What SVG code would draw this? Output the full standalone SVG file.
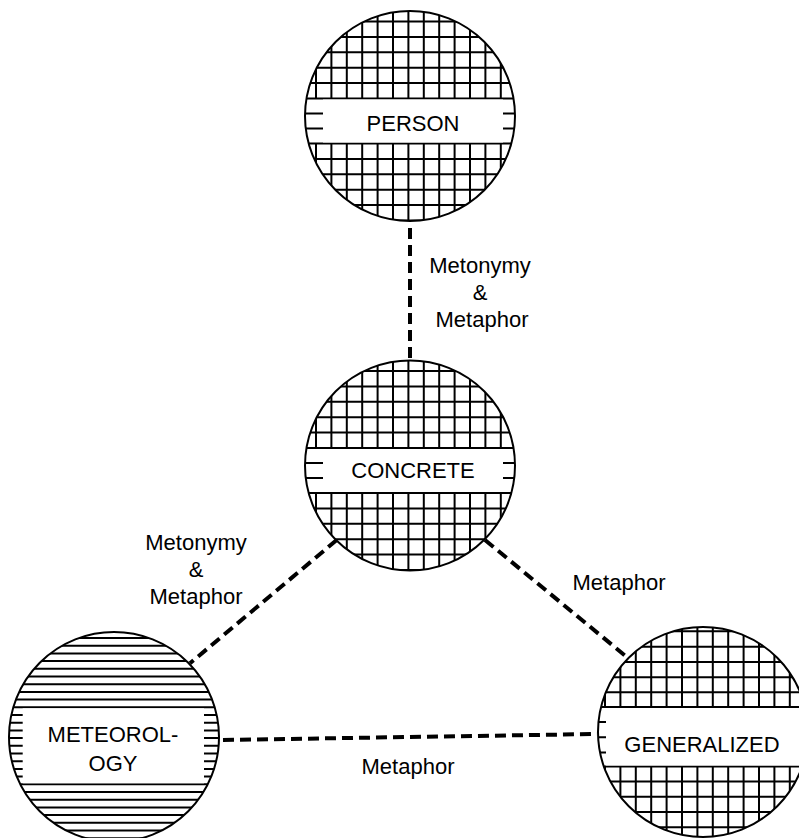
<svg xmlns="http://www.w3.org/2000/svg" xmlns:xlink="http://www.w3.org/1999/xlink" width="799" height="838" viewBox="0 0 799 838">
<style>
.bg{fill:#fff;stroke:none}
.ring{fill:none;stroke:#000;stroke-width:2}
.g{fill:none;stroke:#000;stroke-width:2}
.band{fill:#fff;stroke:none}
.t{font-family:"Liberation Sans",Arial,Helvetica,sans-serif;font-size:22px;fill:#000;text-anchor:middle}
.edge{fill:none;stroke:#000;stroke-width:4;stroke-dasharray:11 6}
</style>
<defs>
<clipPath id="cp-top" clipPathUnits="userSpaceOnUse"><circle cx="410" cy="116" r="105"/></clipPath>
<clipPath id="cp-met" clipPathUnits="userSpaceOnUse"><circle cx="114" cy="737" r="105"/></clipPath>
<clipPath id="cp-gen" clipPathUnits="userSpaceOnUse"><circle cx="703" cy="732" r="105"/></clipPath>
<g id="gridbody">
<circle class="bg" cx="410" cy="116" r="105"/>
<g clip-path="url(#cp-top)">
<path class="g" d="M316 0V98.5M331.4 0V98.5M346.8 0V98.5M362.2 0V98.5M377.6 0V98.5M393 0V98.5M408.4 0V98.5M423.8 0V98.5M439.2 0V98.5M454.6 0V98.5M470 0V98.5M485.4 0V98.5M500.8 0V98.5M316 143.5V230M331.4 143.5V230M346.8 143.5V230M362.2 143.5V230M377.6 143.5V230M393 143.5V230M408.4 143.5V230M423.8 143.5V230M439.2 143.5V230M454.6 143.5V230M470 143.5V230M485.4 143.5V230M500.8 143.5V230"/>
<path class="g" d="M300 21.5H520M300 36.9H520M300 52.3H520M300 67.7H520M300 83.1H520M300 98.5H520M300 113.5H520M300 128.5H520M300 143.5H520M300 158.9H520M300 174.3H520M300 189.7H520M300 205.1H520M300 220.5H520"/>
<rect class="band" x="323" y="99.5" width="180" height="43"/>
</g>
<circle class="ring" cx="410" cy="116" r="105"/>
</g>
</defs>

<g id="connectors">
<path class="edge" d="M410 228V359"/>
<path class="edge" d="M336.7 540L190 663.3"/>
<path class="edge" d="M485 540L628.3 658.3"/>
<path class="edge" d="M223 740L597 734"/>
</g>

<g id="edge-labels">
<text class="t"><tspan x="480" y="273">Metonymy</tspan><tspan x="480" y="300">&amp;</tspan><tspan x="482" y="327">Metaphor</tspan></text>
<text class="t"><tspan x="196" y="550">Metonymy</tspan><tspan x="196" y="577">&amp;</tspan><tspan x="196" y="604">Metaphor</tspan></text>
<text class="t" x="619" y="590">Metaphor</text>
<text class="t" x="408" y="774">Metaphor</text>
</g>

<g id="person">
<use xlink:href="#gridbody"/>
<text class="t" x="413" y="130.5">PERSON</text>
</g>

<g id="concrete">
<use xlink:href="#gridbody" transform="translate(0,349.5)"/>
<text class="t" x="413" y="478">CONCRETE</text>
</g>

<g id="meteorology">
<circle class="bg" cx="114" cy="737" r="105"/>
<g clip-path="url(#cp-met)">
<path class="g" d="M0 638H230M0 645.7H230M0 653.4H230M0 661.1H230M0 668.8H230M0 676.5H230M0 684.2H230M0 691.9H230M0 699.6H230M0 707.3H230M0 715H230M0 722.7H230M0 730.4H230M0 738.1H230M0 745.8H230M0 753.5H230M0 761.2H230M0 768.9H230M0 776.6H230M0 784.3H230M0 792H230M0 799.7H230M0 807.4H230M0 815.1H230M0 822.8H230M0 830.5H230M0 838.2H230"/>
<rect class="band" x="22.7" y="708.3" width="181.3" height="75"/>
</g>
<circle class="ring" cx="114" cy="737" r="105"/>
<text class="t"><tspan x="113" y="742.3">METEOROL-</tspan><tspan x="113" y="771">OGY</tspan></text>
</g>

<g id="generalized">
<circle class="bg" cx="703" cy="732" r="105"/>
<g clip-path="url(#cp-gen)">
<path class="g" d="M605 620V707M620.4 620V707M635.8 620V707M651.2 620V707M666.6 620V707M682 620V707M697.4 620V707M712.8 620V707M728.2 620V707M743.6 620V707M759 620V707M774.4 620V707M789.8 620V707M605 766.5V840M620.4 766.5V840M635.8 766.5V840M651.2 766.5V840M666.6 766.5V840M682 766.5V840M697.4 766.5V840M712.8 766.5V840M728.2 766.5V840M743.6 766.5V840M759 766.5V840M774.4 766.5V840M789.8 766.5V840"/>
<path class="g" d="M590 631.3H810M590 646.7H810M590 662H810M590 677.3H810M590 692.3H810M590 707H810M590 722H810M590 737.3H810M590 752.5H810M590 766.5H810M590 781.5H810M590 796.8H810M590 812H810M590 827.3H810"/>
<rect class="band" x="606" y="708" width="200" height="57.5"/>
</g>
<circle class="ring" cx="703" cy="732" r="105"/>
<text class="t" x="702" y="751.7">GENERALIZED</text>
</g>
</svg>
